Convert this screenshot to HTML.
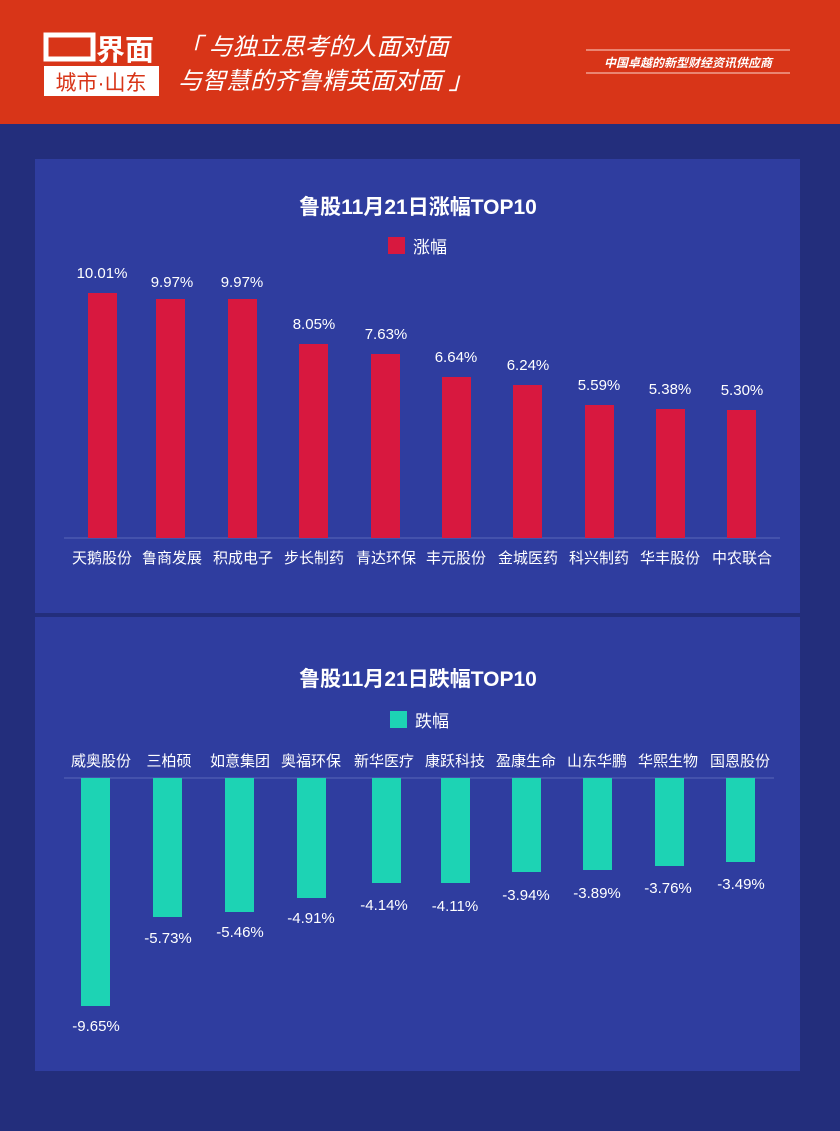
<!DOCTYPE html>
<html><head><meta charset="utf-8"><style>
body{margin:0;width:840px;height:1131px;background:#232e7c;overflow:hidden;font-family:"Liberation Sans","Noto Sans CJK SC",sans-serif}
svg{display:block}
</style></head><body>
<svg width="840" height="1131" xmlns="http://www.w3.org/2000/svg" font-family="Liberation Sans, Noto Sans CJK SC, sans-serif">
<rect x="0" y="0" width="840" height="124" fill="#d83518"/>
<rect x="0" y="124" width="840" height="1007" fill="#232e7c"/>
<rect x="46" y="35" width="47" height="24" fill="none" stroke="#fff" stroke-width="5"/>
<text x="96" y="60" font-size="29" font-weight="bold" fill="#fff">界面</text>
<rect x="44" y="66" width="115" height="30" fill="#fff"/>
<text x="101" y="90" font-size="21" fill="#d83518" text-anchor="middle">城市·山东</text>
<text x="178" y="55" font-size="24" font-style="italic" fill="#fff">「 与独立思考的人面对面</text>
<text x="178" y="89" font-size="24" font-style="italic" fill="#fff">与智慧的齐鲁精英面对面 」</text>
<line x1="586" y1="50" x2="790" y2="50" stroke="#f0a090" stroke-width="1.5"/>
<text x="688" y="67" font-size="12" font-weight="bold" font-style="italic" fill="#fff" text-anchor="middle">中国卓越的新型财经资讯供应商</text>
<line x1="586" y1="73" x2="790" y2="73" stroke="#f0a090" stroke-width="1.5"/>
<rect x="35" y="159" width="765" height="454" fill="#2f3d9f"/>
<rect x="35" y="617" width="765" height="454" fill="#2f3d9f"/>
<text x="418" y="214" font-size="21" font-weight="bold" fill="#fff" text-anchor="middle">鲁股11月21日涨幅TOP10</text>
<rect x="388" y="237" width="17" height="17" fill="#d8183f"/>
<text x="413" y="253" font-size="17" fill="#fff">涨幅</text>
<line x1="64" y1="538" x2="780" y2="538" stroke="#5a68b8" stroke-width="1"/>
<g fill="#d8183f">
<rect x="88" y="293" width="29" height="245"/>
<rect x="156" y="299" width="29" height="239"/>
<rect x="228" y="299" width="29" height="239"/>
<rect x="299" y="344" width="29" height="194"/>
<rect x="371" y="354" width="29" height="184"/>
<rect x="442" y="377" width="29" height="161"/>
<rect x="513" y="385" width="29" height="153"/>
<rect x="585" y="405" width="29" height="133"/>
<rect x="656" y="409" width="29" height="129"/>
<rect x="727" y="410" width="29" height="128"/>
</g>
<g fill="#fff" font-size="15" text-anchor="middle">
<text x="102" y="278">10.01%</text><text x="172" y="287">9.97%</text><text x="242" y="287">9.97%</text><text x="314" y="329">8.05%</text><text x="386" y="339">7.63%</text><text x="456" y="362">6.64%</text><text x="528" y="370">6.24%</text><text x="599" y="390">5.59%</text><text x="670" y="394">5.38%</text><text x="742" y="395">5.30%</text>
</g>
<g fill="#fff" font-size="15" text-anchor="middle">
<text x="102" y="563">天鹅股份</text><text x="172" y="563">鲁商发展</text><text x="243" y="563">积成电子</text><text x="314" y="563">步长制药</text><text x="386" y="563">青达环保</text><text x="456" y="563">丰元股份</text><text x="528" y="563">金城医药</text><text x="599" y="563">科兴制药</text><text x="670" y="563">华丰股份</text><text x="742" y="563">中农联合</text>
</g>
<text x="418" y="686" font-size="21" font-weight="bold" fill="#fff" text-anchor="middle">鲁股11月21日跌幅TOP10</text>
<rect x="390" y="711" width="17" height="17" fill="#1dd3b4"/>
<text x="415" y="727" font-size="17" fill="#fff">跌幅</text>
<g fill="#fff" font-size="15" text-anchor="middle">
<text x="101" y="766">威奥股份</text><text x="169" y="766">三柏硕</text><text x="240" y="766">如意集团</text><text x="311" y="766">奥福环保</text><text x="384" y="766">新华医疗</text><text x="455" y="766">康跃科技</text><text x="526" y="766">盈康生命</text><text x="597" y="766">山东华鹏</text><text x="668" y="766">华熙生物</text><text x="740" y="766">国恩股份</text>
</g>
<line x1="64" y1="778" x2="774" y2="778" stroke="#5a68b8" stroke-width="1"/>
<g fill="#1dd3b4">
<rect x="81" y="778" width="29" height="228"/>
<rect x="153" y="778" width="29" height="139"/>
<rect x="225" y="778" width="29" height="134"/>
<rect x="297" y="778" width="29" height="120"/>
<rect x="372" y="778" width="29" height="105"/>
<rect x="441" y="778" width="29" height="105"/>
<rect x="512" y="778" width="29" height="94"/>
<rect x="583" y="778" width="29" height="92"/>
<rect x="655" y="778" width="29" height="88"/>
<rect x="726" y="778" width="29" height="84"/>
</g>
<g fill="#fff" font-size="15" text-anchor="middle">
<text x="96" y="1031">-9.65%</text><text x="168" y="943">-5.73%</text><text x="240" y="937">-5.46%</text><text x="311" y="923">-4.91%</text><text x="384" y="910">-4.14%</text><text x="455" y="911">-4.11%</text><text x="526" y="900">-3.94%</text><text x="597" y="898">-3.89%</text><text x="668" y="893">-3.76%</text><text x="741" y="889">-3.49%</text>
</g>
</svg>
</body></html>
